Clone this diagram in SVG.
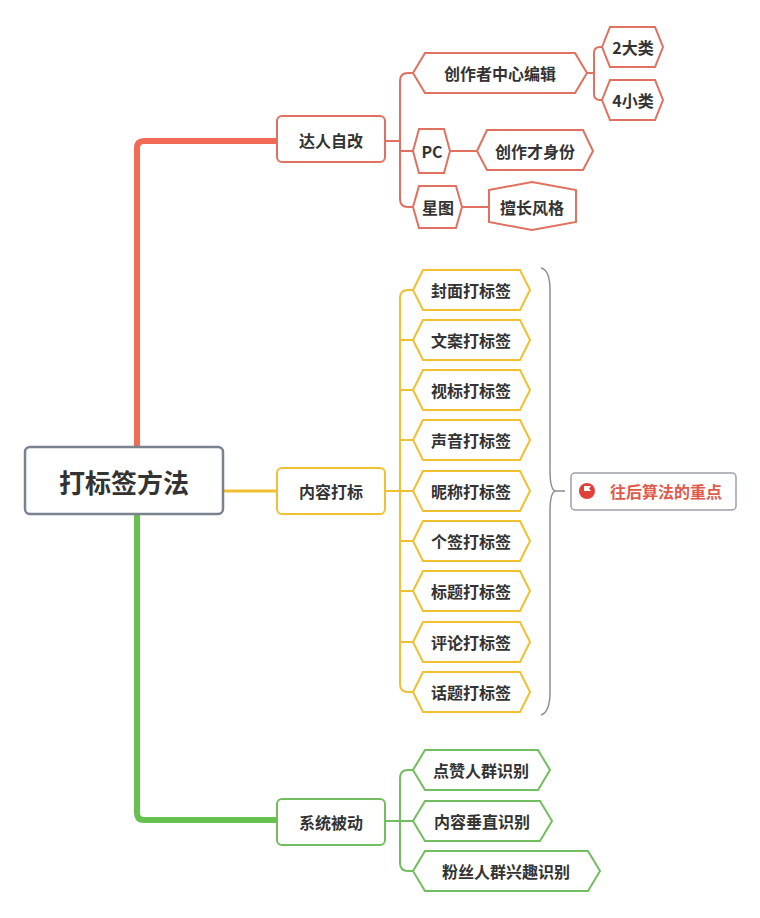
<svg xmlns="http://www.w3.org/2000/svg" width="760" height="918" viewBox="0 0 760 918">
<style>
text{font-family:"Noto Sans CJK SC","Noto Sans",sans-serif;font-weight:bold;fill:#333;font-size:16px;text-anchor:middle;dominant-baseline:central}
.r{fill:#fff;stroke:#e0705f;stroke-width:2}
.y{fill:#fff;stroke:#f0c030;stroke-width:2}
.g{fill:#fff;stroke:#72bd5f;stroke-width:2}
.lr{fill:none;stroke:#e0705f;stroke-width:2}
.ly{fill:none;stroke:#f0c030;stroke-width:2}
.lg{fill:none;stroke:#72bd5f;stroke-width:2}
</style>
<rect width="760" height="918" fill="#fff"/>
<g id="connectors">
<path d="M137 447 V148 Q137 141 144 141 H277" fill="none" stroke="#f06a55" stroke-width="6"/>
<path d="M137 514 V813 Q137 820 144 820 H277" fill="none" stroke="#66c14f" stroke-width="6"/>
<path d="M223 491 H277" fill="none" stroke="#f0c030" stroke-width="3"/>
<path class="lr" d="M385 141 H400 M413 73 H408 Q400 73 400 81 V199 Q400 207 408 207 H413 M400 151 H413"/>
<path class="lr" d="M587 73 H594 M602 47 H600 Q594 47 594 53 V94 Q594 100 600 100 H602"/>
<path class="lr" d="M450 151 H477 M462 207 H489"/>
<path class="ly" d="M385 491 H413 M413 290 H408 Q400 290 400 298 V684 Q400 692 408 692 H413 M400 340 H413 M400 390 H413 M400 440 H413 M400 541 H413 M400 591 H413 M400 642 H413"/>
<path d="M541 268 Q550 270 550 290 V470 Q550 491 556 491 Q550 491 550 512 V692 Q550 712 541 715 M556 491 H565" fill="none" stroke="#8a8f98" stroke-width="1.5"/>
<path class="lg" d="M385 821 H413 M413 770 H408 Q400 770 400 778 V863 Q400 871 408 871 H413"/>
</g>
<g id="root"><rect x="25" y="447" width="198" height="67" rx="5" fill="#fff" stroke="#7a8290" stroke-width="2.5"/><text x="124" y="481" style="font-size:26px">打标签方法</text></g>
<g id="n1"><rect class="r" x="277" y="116" width="108" height="46" rx="5"/><text x="331" y="140">达人自改</text></g>
<g id="n2"><rect class="y" x="277" y="468" width="108" height="46" rx="5"/><text x="331" y="491">内容打标</text></g>
<g id="n3"><rect class="g" x="277" y="799" width="108" height="46" rx="5"/><text x="331" y="822">系统被动</text></g>
<g id="a1"><polygon class="r" points="413,73 425,53 575,53 587,73 575,93 425,93"/><text x="500" y="73">创作者中心编辑</text></g>
<g id="a2"><polygon class="r" points="413,151 419,129 444,129 450,151 444,173 419,173"/><text x="432" y="151">PC</text></g>
<g id="a3"><polygon class="r" points="413,207 419,186 456,186 462,207 456,228 419,228"/><text x="438" y="207">星图</text></g>
<g id="a4"><polygon class="r" points="602,47 610,27 655,27 663,47 655,67 610,67"/><text x="633" y="47">2大类</text></g>
<g id="a5"><polygon class="r" points="602,100 610,80 655,80 663,100 655,120 610,120"/><text x="633" y="100">4小类</text></g>
<g id="a6"><polygon class="r" points="477,151 487,130 583,130 593,151 583,170 487,170"/><text x="535" y="151">创作才身份</text></g>
<g id="a7"><polygon class="r" points="489,190 532,182 576,190 576,222 532,230 489,222"/><text x="532" y="207">擅长风格</text></g>
<g id="b1"><polygon class="y" points="413,290 423,270 520,270 530,290 520,310 423,310"/><text x="471" y="290">封面打标签</text></g>
<g id="b2"><polygon class="y" points="413,340 423,320 520,320 530,340 520,360 423,360"/><text x="471" y="340">文案打标签</text></g>
<g id="b3"><polygon class="y" points="413,390 423,370 520,370 530,390 520,410 423,410"/><text x="471" y="390">视标打标签</text></g>
<g id="b4"><polygon class="y" points="413,440 423,420 520,420 530,440 520,460 423,460"/><text x="471" y="440">声音打标签</text></g>
<g id="b5"><polygon class="y" points="413,491 423,471 520,471 530,491 520,511 423,511"/><text x="471" y="491">昵称打标签</text></g>
<g id="b6"><polygon class="y" points="413,541 423,521 520,521 530,541 520,561 423,561"/><text x="471" y="541">个签打标签</text></g>
<g id="b7"><polygon class="y" points="413,591 423,571 520,571 530,591 520,611 423,611"/><text x="471" y="591">标题打标签</text></g>
<g id="b8"><polygon class="y" points="413,642 423,622 520,622 530,642 520,662 423,662"/><text x="471" y="642">评论打标签</text></g>
<g id="b9"><polygon class="y" points="413,692 423,672 520,672 530,692 520,712 423,712"/><text x="471" y="692">话题打标签</text></g>
<g id="callout"><rect x="571" y="473" width="165" height="37" rx="4" fill="#fff" stroke="#9aa0a8" stroke-width="1.5"/><circle cx="587" cy="491" r="8" fill="#e0403a"/><path d="M584 496 V486 H591 L589 488.5 L591 491 H584" fill="#fff"/><text x="666" y="491" style="fill:#e05a4a">往后算法的重点</text></g>
<g id="c1"><polygon class="g" points="413,770 425,750 538,750 550,770 538,790 425,790"/><text x="481" y="770">点赞人群识别</text></g>
<g id="c2"><polygon class="g" points="413,821 425,801 540,801 552,821 540,841 425,841"/><text x="482" y="821">内容垂直识别</text></g>
<g id="c3"><polygon class="g" points="413,871 425,851 588,851 600,871 588,891 425,891"/><text x="506" y="871">粉丝人群兴趣识别</text></g>
</svg>
